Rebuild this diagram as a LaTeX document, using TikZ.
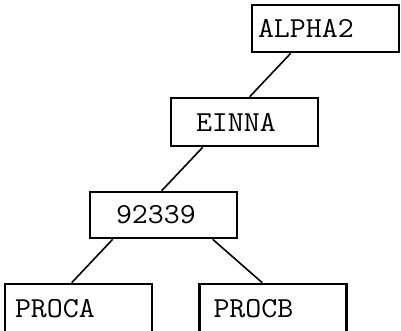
\documentclass[tikz,border=0pt]{standalone}
\usepackage{fontspec}
\newcommand{\boxlbl}[3]{\makebox[147pt][l]{\hspace*{#1}\raisebox{#2}{\scalebox{1.07}[1]{#3}}}}
\tikzset{
  treebox/.style={draw=black, line width=2.6pt, rectangle, minimum width=147pt,
    minimum height=46pt, inner xsep=0pt, inner ysep=0pt,
    font=\ttfamily\fontsize{29}{29}\selectfont},
  edge/.style={draw=black, line width=1.6pt}
}
\begin{document}
\begin{tikzpicture}[x=1pt,y=-1pt]
\useasboundingbox (0,0) rectangle (401,331);
\node[treebox, minimum width=145pt, minimum height=47pt] (alpha) at (325.5,28.5) {\boxlbl{6pt}{-2pt}{ALPHA2}};
\node[treebox, minimum height=48pt] (einna) at (244.5,122) {\boxlbl{25pt}{-2.5pt}{EINNA}};
\node[treebox] (n923) at (163.5,215) {\boxlbl{26pt}{-1.5pt}{92339}};
\node[treebox, minimum height=50pt] (proca) at (78.5,309) {\boxlbl{10pt}{-1pt}{PROCA}};
\node[treebox, minimum height=50pt] (procb) at (273,309) {\boxlbl{14pt}{-1pt}{PROCB}};
\draw[edge] ([xshift=40pt]alpha.south west) -- ([xshift=80pt]einna.north west);
\draw[edge] ([xshift=33pt]einna.south west) -- ([xshift=73pt]n923.north west);
\draw[edge] ([xshift=24pt]n923.south west) -- ([xshift=68pt]proca.north west);
\draw[edge] ([xshift=124pt]n923.south west) -- ([xshift=64pt]procb.north west);
\end{tikzpicture}
\end{document}
